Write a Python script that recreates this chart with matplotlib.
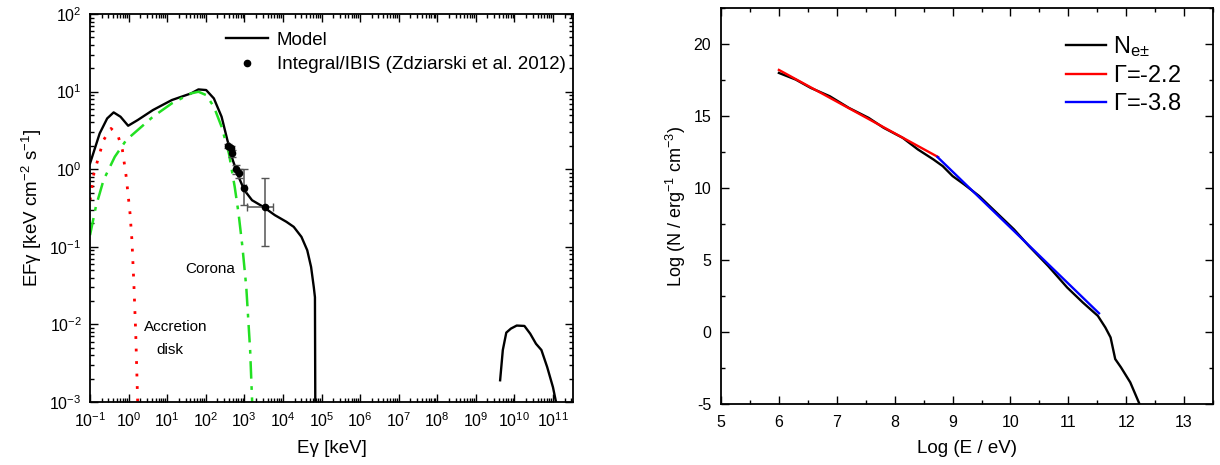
import matplotlib
matplotlib.use('Agg')
import matplotlib.pyplot as plt
import numpy as np
from matplotlib.ticker import LogLocator, MultipleLocator, NullFormatter

plt.rcParams['font.family'] = ['Liberation Sans', 'DejaVu Sans']
plt.rcParams['mathtext.fontset'] = 'custom'
plt.rcParams['mathtext.rm'] = 'Liberation Sans'
plt.rcParams['mathtext.it'] = 'Liberation Sans:italic'
plt.rcParams['axes.unicode_minus'] = False

# ---- left panel: SED, log10(E/keV) vs log10(EF) ----
model_logE = [-1.0, -0.75, -0.556, -0.388, -0.21, -0.012, 0.235, 0.63, 1.12, 1.62,
              1.81, 2.01, 2.21, 2.41, 2.56, 2.70, 2.85, 3.0, 3.2, 3.49, 3.79,
              4.09, 4.28, 4.48, 4.63, 4.73, 4.80, 4.83, 4.84]
model_logF = [0.074, 0.461, 0.654, 0.732, 0.676, 0.560, 0.633, 0.762, 0.891, 0.977,
              1.028, 1.020, 0.912, 0.676, 0.375, 0.117, -0.098, -0.27, -0.40, -0.485,
              -0.592, -0.678, -0.743, -0.872, -1.044, -1.26, -1.52, -1.65, -3.2]

gev_logE = [9.63, 9.70, 9.79, 9.91, 10.06, 10.26, 10.41, 10.56, 10.70, 10.85, 11.0, 11.12]
gev_logF = [-2.72, -2.33, -2.106, -2.054, -2.015, -2.02, -2.12, -2.25, -2.33, -2.55, -2.81, -3.1]

disk_logE = [-1.0, -0.90, -0.80, -0.65, -0.457, -0.28, -0.16, -0.062, 0.037, 0.086,
             0.136, 0.185, 0.24]
disk_logF = [-0.40, -0.055, 0.117, 0.375, 0.525, 0.44, 0.246, -0.098, -0.571, -0.915,
             -1.474, -2.12, -3.1]

corona_logE = [-1.0, -0.85, -0.65, -0.358, -0.062, 0.235, 0.63, 1.12, 1.62, 1.81, 2.01,
               2.21, 2.41, 2.60, 2.75, 2.85, 2.95, 3.05, 3.15, 3.21]
corona_logF = [-0.85, -0.485, -0.14, 0.16, 0.375, 0.504, 0.676, 0.848, 0.977, 0.998,
               0.955, 0.805, 0.547, 0.203, -0.227, -0.571, -1.0, -1.52, -2.33, -3.1]

ibis_logE = [2.583, 2.645, 2.687, 2.774, 2.860, 2.998, 3.534]
ibis_logF = [0.299, 0.269, 0.205, -0.001, -0.053, -0.238, -0.483]
ibis_lo = [1.85, 1.75, 1.45, 0.88, 0.78, 0.346, 0.102]
ibis_hi = [2.10, 2.0, 1.75, 1.12, 1.0, 1.0, 0.76]
ibis_xlo_logE = [2.57, 2.63, 2.67, 2.76, 2.84, 2.96, 3.06]
ibis_xhi_logE = [2.60, 2.66, 2.70, 2.79, 2.88, 3.04, 3.73]

# ---- right panel: electron spectrum ----
ne_logE = [6.0, 6.29, 6.55, 6.88, 7.21, 7.55, 7.81, 8.14, 8.40, 8.67, 8.83, 9.0, 9.20,
           9.46, 9.73, 10.06, 10.32, 10.65, 10.98, 11.25, 11.51, 11.64, 11.73, 11.81,
           11.91, 12.07, 12.24]
ne_logN = [17.99, 17.53, 16.95, 16.37, 15.56, 14.87, 14.18, 13.48, 12.68, 11.98, 11.52,
           10.83, 10.25, 9.44, 8.40, 7.13, 5.97, 4.59, 3.09, 2.05, 1.12, 0.31, -0.38,
           -1.88, -2.46, -3.50, -5.1]
fit1_logE = [6.0, 8.75]
fit1_logN = [18.2, 12.15]
fit2_logE = [8.74, 11.53]
fit2_logN = [12.15, 1.3]


def main():
    fig = plt.figure(figsize=(12.2, 4.65), dpi=100)
    ax1 = fig.add_axes([0.0738, 0.1355, 0.3959, 0.8344])
    ax2 = fig.add_axes([0.591, 0.1312, 0.4033, 0.8516])

    p = lambda v: 10.0 ** np.asarray(v)

    ax1.plot(p(model_logE), p(model_logF), 'k-', lw=1.7, label='Model')
    ax1.plot(p(gev_logE), p(gev_logF), 'k-', lw=1.7)
    ax1.plot(p(disk_logE), p(disk_logF), color='red', ls=(0, (1, 3.5)), lw=2.0)
    ax1.plot(p(corona_logE), p(corona_logF), color='#22e022', ls=(0, (7, 3, 1.5, 3)), lw=1.8)

    x = p(ibis_logE)
    y = p(ibis_logF)
    yerr = [y - np.array(ibis_lo), np.array(ibis_hi) - y]
    xerr = [x - p(ibis_xlo_logE), p(ibis_xhi_logE) - x]
    ax1.errorbar(x, y, yerr=yerr, xerr=xerr, fmt='none', ecolor='#555555',
                 elinewidth=1.1, capsize=3)
    ax1.plot(x, y, 'ko', ms=4.5, ls='none', label='Integral/IBIS (Zdziarski et al. 2012)')

    ax1.text(10 ** 2.11, 10 ** -1.28, 'Corona', ha='center', va='center', fontsize=11)
    ax1.text(10 ** 1.22, 10 ** -2.03, 'Accretion', ha='center', va='center', fontsize=11)
    ax1.text(10 ** 1.07, 10 ** -2.33, 'disk', ha='center', va='center', fontsize=11)

    ax1.set_xscale('log')
    ax1.set_yscale('log')
    ax1.set_xlim(1e-1, 10 ** 11.52)
    ax1.set_ylim(1e-3, 1e2)
    ax1.xaxis.set_major_locator(LogLocator(base=10, numticks=30))
    ax1.xaxis.set_minor_locator(LogLocator(base=10, subs=np.arange(2, 10), numticks=30))
    ax1.xaxis.set_minor_formatter(NullFormatter())
    ax1.yaxis.set_minor_locator(LogLocator(base=10, subs=np.arange(2, 10), numticks=30))
    ax1.yaxis.set_minor_formatter(NullFormatter())
    ax1.set_xlabel('Eγ [keV]', fontsize=13.5, labelpad=7)
    ax1.set_ylabel(r'EFγ [keV cm$^{-2}$ s$^{-1}$]', fontsize=13.5)
    ax1.legend(loc='upper right', frameon=False, fontsize=13.5, handlelength=2.2,
               borderaxespad=0.5, handletextpad=0.5, labelspacing=0.4,
               bbox_to_anchor=(1.02, 0.998))

    ax2.plot(ne_logE, ne_logN, 'k-', lw=1.7, label=r'N$_{\mathregular{e±}}$')
    ax2.plot(fit1_logE, fit1_logN, color='red', lw=1.7, label=r'$\Gamma$=-2.2')
    ax2.plot(fit2_logE, fit2_logN, color='blue', lw=1.7, label=r'$\Gamma$=-3.8')
    ax2.set_xlim(5, 13.5)
    ax2.set_ylim(-5, 22.5)
    ax2.xaxis.set_major_locator(MultipleLocator(1))
    ax2.xaxis.set_minor_locator(MultipleLocator(0.5))
    ax2.yaxis.set_major_locator(MultipleLocator(5))
    ax2.yaxis.set_minor_locator(MultipleLocator(2.5))
    ax2.set_xlabel('Log (E / eV)', fontsize=13.5, labelpad=7)
    ax2.set_ylabel(r'Log (N / erg$^{-1}$ cm$^{-3}$)', fontsize=13)
    ax2.legend(loc='upper right', frameon=False, fontsize=17, handlelength=1.7,
               borderaxespad=0.3, handletextpad=0.3, labelspacing=0.25,
               bbox_to_anchor=(0.97, 0.975))

    for ax in (ax1, ax2):
        ax.tick_params(which='both', direction='in', top=True, right=True, labelsize=11.5)
        ax.tick_params(which='major', length=6, width=1)
        ax.tick_params(which='minor', length=3, width=1)
        for s in ax.spines.values():
            s.set_linewidth(1.3)
    ax1.tick_params(axis='x', which='major', pad=7)
    ax1.tick_params(axis='y', which='major', pad=6)
    ax2.tick_params(axis='x', which='major', pad=8)
    ax2.tick_params(axis='y', which='major', pad=7)

    fig.savefig('out.png', dpi=100)


if __name__ == "__main__":
    main()
